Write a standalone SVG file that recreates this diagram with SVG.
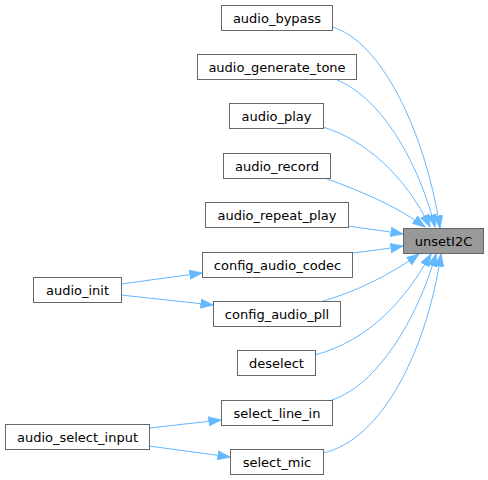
<svg xmlns="http://www.w3.org/2000/svg" width="488" height="480" viewBox="0 0 488 480">
<style>
.node rect{fill:#ffffff;stroke:#666666;stroke-width:1}
.node.cur rect{fill:#999999}
.node text{font-family:"DejaVu Sans","Liberation Sans",sans-serif;font-size:13px;fill:#000000;text-anchor:middle}
.edges path{fill:none;stroke:#63b8ff;stroke-width:1}
</style>
<defs>
<marker id="arr" markerUnits="userSpaceOnUse" markerWidth="13" markerHeight="10" viewBox="0 0 13 10" refX="12.5" refY="5" orient="auto">
<path d="M0,0.3 L13,5 L0,9.7 z" fill="#63b8ff" stroke="#63b8ff" stroke-width="0.6"/>
</marker>
</defs>
<rect width="488" height="480" fill="#ffffff"/>
<g class="edges">
<path d="M332,27 C380,40 425,130 440,228" marker-end="url(#arr)"/>
<path d="M337,80 C375,95 415,150 435,227" marker-end="url(#arr)"/>
<path d="M323,127 C365,140 405,175 430,227" marker-end="url(#arr)"/>
<path d="M327,179 C358,190 395,205 425,227" marker-end="url(#arr)"/>
<path d="M348,226 C368,229 385,231 403,234" marker-end="url(#arr)"/>
<path d="M352,253 C370,251 385,249 403,246" marker-end="url(#arr)"/>
<path d="M323,301 C355,292 390,275 419,254" marker-end="url(#arr)"/>
<path d="M315,355 C370,340 405,300 431,254" marker-end="url(#arr)"/>
<path d="M332,400 C377,385 417,320 436,254" marker-end="url(#arr)"/>
<path d="M323,453 C382,440 427,350 441,254" marker-end="url(#arr)"/>
<path d="M121,284 L202,273" marker-end="url(#arr)"/>
<path d="M121,295 L213,305" marker-end="url(#arr)"/>
<path d="M149,428 L221,420" marker-end="url(#arr)"/>
<path d="M149,446 L230,457" marker-end="url(#arr)"/>
</g>
<g id="node-audio_bypass" class="node"><rect x="221.5" y="5.5" width="111" height="25"/><text x="277" y="22.5">audio_bypass</text></g>
<g id="node-audio_generate_tone" class="node"><rect x="197.5" y="54.5" width="159" height="25"/><text x="277" y="71.5">audio_generate_tone</text></g>
<g id="node-audio_play" class="node"><rect x="229.5" y="103.5" width="94" height="25"/><text x="276.5" y="120.5">audio_play</text></g>
<g id="node-audio_record" class="node"><rect x="223.5" y="153.5" width="107" height="25"/><text x="277" y="170.5">audio_record</text></g>
<g id="node-audio_repeat_play" class="node"><rect x="205.5" y="202.5" width="143" height="25"/><text x="277" y="219.5">audio_repeat_play</text></g>
<g id="node-unsetI2C" class="node cur"><rect x="403.5" y="228.5" width="80" height="25"/><text x="443.5" y="245.5">unsetI2C</text></g>
<g id="node-config_audio_codec" class="node"><rect x="202.5" y="252.5" width="150" height="25"/><text x="277.5" y="269.5">config_audio_codec</text></g>
<g id="node-audio_init" class="node"><rect x="33.5" y="277.5" width="88" height="25"/><text x="77.5" y="294.5">audio_init</text></g>
<g id="node-config_audio_pll" class="node"><rect x="213.5" y="301.5" width="127" height="25"/><text x="277" y="318.5">config_audio_pll</text></g>
<g id="node-deselect" class="node"><rect x="237.5" y="350.5" width="78" height="25"/><text x="276.5" y="367.5">deselect</text></g>
<g id="node-select_line_in" class="node"><rect x="221.5" y="400.5" width="111" height="25"/><text x="277" y="417.5">select_line_in</text></g>
<g id="node-audio_select_input" class="node"><rect x="5.5" y="424.5" width="144" height="25"/><text x="77.5" y="441.5">audio_select_input</text></g>
<g id="node-select_mic" class="node"><rect x="230.5" y="449.5" width="93" height="25"/><text x="277" y="466.5">select_mic</text></g>
</svg>
